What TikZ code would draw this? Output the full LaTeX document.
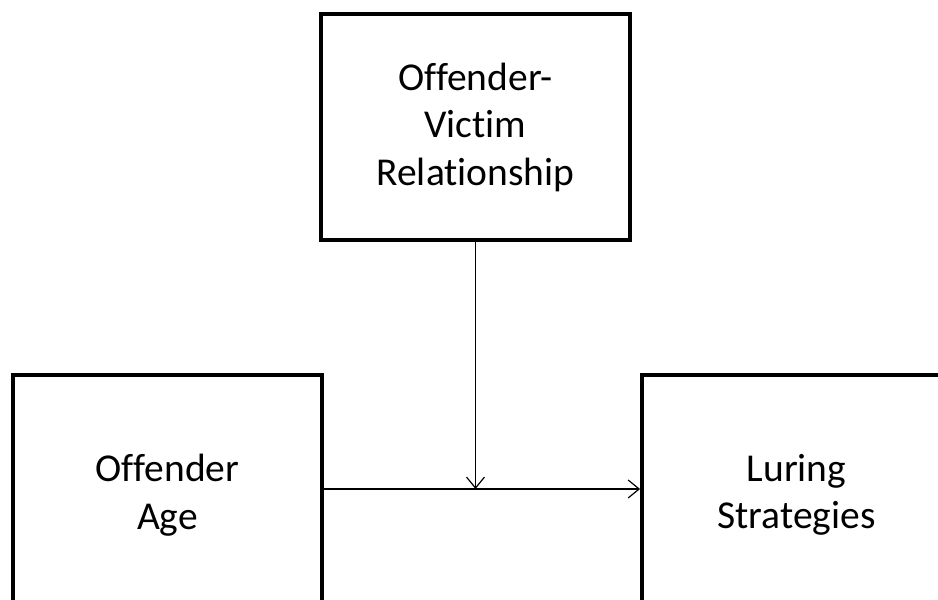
\documentclass[tikz,border=0pt]{standalone}
\usepackage{fontspec}
\setmainfont[Ligatures=CommonOff]{Carlito}
\usetikzlibrary{arrows.meta}
\begin{document}
\begin{tikzpicture}[x=1pt,y=1pt,
  box/.style={draw=black,line width=3.8pt,fill=white,align=center,inner sep=0pt,
    font=\fontsize{39.5}{47.5}\selectfont},
  conn/.style={line width=1.2pt,-{Straight Barb[length=11pt,width=18pt,line width=1.2pt]}}]
\useasboundingbox (0,0) rectangle (938,600);
\clip (0,0) rectangle (938,600);
\node[box,minimum width=309pt,minimum height=226pt] (top) at (475.5,473) {Offender-\\Victim\\Relationship};
\node[box,minimum width=309pt,minimum height=240pt] (age) at (167.5,105) {Offender\\Age};
\node[box,minimum width=309pt,minimum height=240pt] (lure) at (796.5,105) {Luring\\Strategies};
\coordinate (j) at (top.south |- 0,111);
\draw[conn] (age.east |- j) -- (lure.west |- j);
\draw[conn] (top.south) -- (j);
\end{tikzpicture}
\end{document}
